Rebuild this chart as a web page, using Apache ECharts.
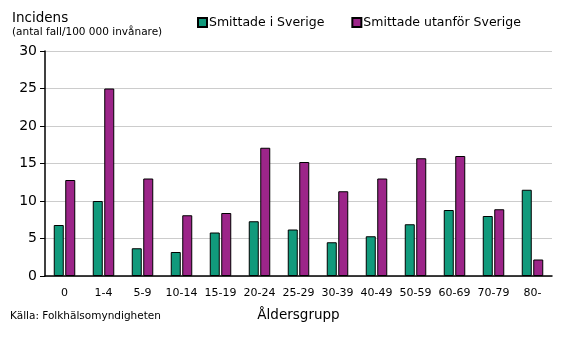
<!DOCTYPE html>
<html><head><meta charset="utf-8">
<script src="https://cdn.jsdelivr.net/npm/echarts@6/dist/echarts.min.js"></script>
<style>html,body{margin:0;padding:0;background:#fff}#c{width:567px;height:337px}</style>
</head><body><div id="c"></div>
<script>
const categories = ['0','1-4','5-9','10-14','15-19','20-24','25-29','30-39','40-49','50-59','60-69','70-79','80-'];
const inSweden = [6.8,10.0,3.7,3.2,5.8,7.3,6.2,4.5,5.3,6.9,8.8,8.0,11.5];
const outsideSweden = [12.8,25.0,13.0,8.1,8.4,17.1,15.2,11.3,13.0,15.7,16.0,8.9,2.2];
const yTicks = [0,5,10,15,20,25,30];
const F = 'Tahoma, "DejaVu Sans", sans-serif';
const chart = echarts.init(document.getElementById('c'));
chart.setOption({
  animation:false,
  textStyle:{fontFamily:F},
  grid:{left:45,right:15,top:51,bottom:61},
  title:[
    {text:'Incidens',left:12,top:11,padding:0,textStyle:{fontSize:13.5,fontWeight:'normal',color:'#000',fontFamily:F}},
    {text:'(antal fall/100 000 invånare)',left:12,top:27,padding:0,textStyle:{fontSize:10.5,fontWeight:'normal',color:'#000',fontFamily:F}},
    {text:'Källa: Folkhälsomyndigheten',left:10,top:311,padding:0,textStyle:{fontSize:10.5,fontWeight:'normal',color:'#000',fontFamily:F}}
  ],
  legend:{left:197,top:16,padding:0,itemWidth:9,itemHeight:9,itemGap:27,icon:'rect',
    textStyle:{fontSize:12.5,color:'#000',fontFamily:F,padding:[0,0,0,-3]},
    data:['Smittade i Sverige','Smittade utanför Sverige']},
  xAxis:{type:'category',data:categories,name:'Åldersgrupp',nameLocation:'middle',nameGap:32,
    nameTextStyle:{fontSize:13.5,color:'#000',fontFamily:F},
    axisLine:{lineStyle:{color:'#000',width:1.5}},axisTick:{show:false},
    axisLabel:{interval:0,fontSize:11,color:'#000',margin:12,fontFamily:F}},
  yAxis:{type:'value',min:yTicks[0],max:yTicks[yTicks.length-1],interval:5,
    axisLine:{show:true,lineStyle:{color:'#000',width:1.5}},
    axisTick:{show:true,length:5,lineStyle:{color:'#000'}},
    axisLabel:{fontSize:14,color:'#000',margin:8,fontFamily:F},
    splitLine:{lineStyle:{color:'#cccccc',width:1}}},
  series:[
    {name:'Smittade i Sverige',type:'bar',data:inSweden,barWidth:10,barGap:'15%',
      itemStyle:{color:'#119a7c',borderColor:'#000',borderWidth:1}},
    {name:'Smittade utanför Sverige',type:'bar',data:outsideSweden,barWidth:10,
      itemStyle:{color:'#9c2589',borderColor:'#000',borderWidth:1}}
  ]
});
</script></body></html>
